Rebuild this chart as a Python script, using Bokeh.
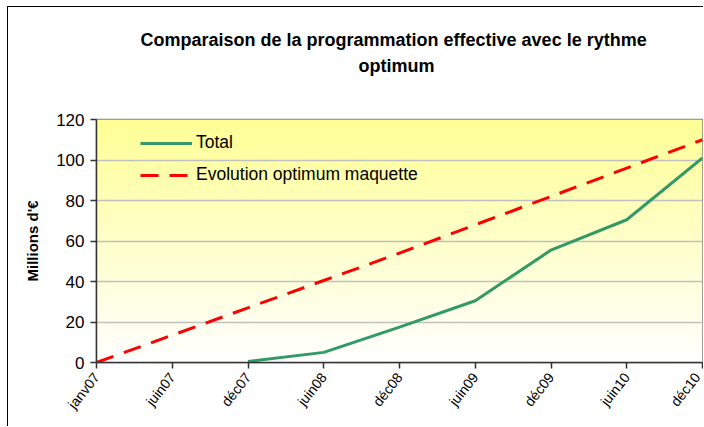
import numpy as np
from bokeh.plotting import figure
from bokeh.models import FixedTicker, Legend, LegendItem, Range1d, Title
from bokeh.embed import file_html
from bokeh.resources import INLINE

# ---- data ----
months = ["janv07", "juin07", "déc07", "juin08", "déc08", "juin09", "déc09", "juin10", "déc10"]
optimum = [0, 13.5, 27, 40.5, 54, 68, 82, 96, 110]
total_months = ["déc07", "juin08", "déc08", "juin09", "déc09", "juin10", "déc10"]
total = [0.5, 5, 17.5, 30.5, 55.5, 70.5, 101]
y_ticks = [0, 20, 40, 60, 80, 100, 120]
title_lines = ["Comparaison de la programmation effective avec le rythme", "optimum"]

x_opt = [months.index(m) for m in months]
x_tot = [months.index(m) for m in total_months]

FONT = "Liberation Sans"

p = figure(width=696, height=420, output_backend="svg", toolbar_location=None,
           x_range=Range1d(0, len(months) - 1), y_range=Range1d(y_ticks[0], y_ticks[-1]),
           min_border_left=88, min_border_right=2, min_border_top=112, min_border_bottom=65,
           background_fill_color="white", border_fill_color="white")
p.styles = {"margin-left": "7px", "margin-top": "6px",
            "border-left": "1px solid #000000", "border-top": "1px solid #000000"}

# gradient background of the plot area
N = 256
img = np.zeros((N, 1), dtype=np.uint32)
v = img.view(dtype=np.uint8).reshape((N, 1, 4))
t = np.linspace(0, 1, N)
v[:, 0, 0] = 255
v[:, 0, 1] = 255
v[:, 0, 2] = (255 - t * (255 - 150)).astype(np.uint8)
v[:, 0, 3] = 255
bg = p.image_rgba(image=[img], x=0, y=y_ticks[0], dw=len(months) - 1, dh=y_ticks[-1] - y_ticks[0])
bg.level = "image"

r_tot = p.line(x_tot, total, line_color="#339966", line_width=3)
r_opt = p.line(x_opt, optimum, line_color="#FF0000", line_width=3, line_dash="18 11")

# two-line title; added Titles stack outward from the plot (first added = nearest)
def style_title(tt):
    tt.text_font = FONT
    tt.text_font_size = "18px"
    tt.text_font_style = "bold"
    tt.text_color = "black"
    tt.align = "left"

spacer = Title(text=" ", text_font_size="18px", standoff=20)
p.add_layout(spacer, "above")
t2 = Title(text=title_lines[1])
style_title(t2)
t2.standoff = 4
t2.offset = 262
p.add_layout(t2, "above")

p.title.text = title_lines[0]
style_title(p.title)
p.title.standoff = 4
p.title.offset = 44

p.outline_line_color = "#808080"
p.outline_line_width = 1.5

p.xgrid.visible = False
p.ygrid.grid_line_color = "#C0C0C0"
p.ygrid.grid_line_width = 1.5

p.yaxis.ticker = FixedTicker(ticks=y_ticks)
p.yaxis.axis_label = "Millions d'€"
p.yaxis.axis_label_text_font = FONT
p.yaxis.axis_label_text_font_style = "bold"
p.yaxis.axis_label_text_font_size = "15px"
p.yaxis.axis_label_text_color = "black"
p.yaxis.axis_label_standoff = 12
p.yaxis.major_label_text_font = FONT
p.yaxis.major_label_text_font_size = "17px"
p.yaxis.major_label_standoff = 6

p.xaxis.ticker = FixedTicker(ticks=x_opt)
p.xaxis.major_label_overrides = {i: m for i, m in enumerate(months)}
p.xaxis.major_label_orientation = 0.9
p.xaxis.major_label_text_font = FONT
p.xaxis.major_label_text_font_size = "14px"
p.xaxis.major_label_standoff = 6

for ax in (p.xaxis, p.yaxis):
    ax.axis_line_color = "#333333"
    ax.axis_line_width = 1.5
    ax.major_tick_line_color = "#333333"
    ax.major_tick_line_width = 1.5
    ax.major_tick_out = 6
    ax.major_tick_in = 0
    ax.minor_tick_line_color = None
    ax.major_label_text_color = "black"

legend = Legend(items=[LegendItem(label="Total", renderers=[r_tot]),
                       LegendItem(label="Evolution optimum maquette", renderers=[r_opt])],
                location=(44, 177), padding=0, margin=0, spacing=11,
                glyph_width=52, glyph_height=20, label_height=20, label_standoff=4,
                label_text_font=FONT, label_text_font_size="17.5px", label_text_color="black",
                border_line_color=None, background_fill_alpha=0)
p.add_layout(legend)

open("out.html", "w").write(file_html(p, INLINE))
